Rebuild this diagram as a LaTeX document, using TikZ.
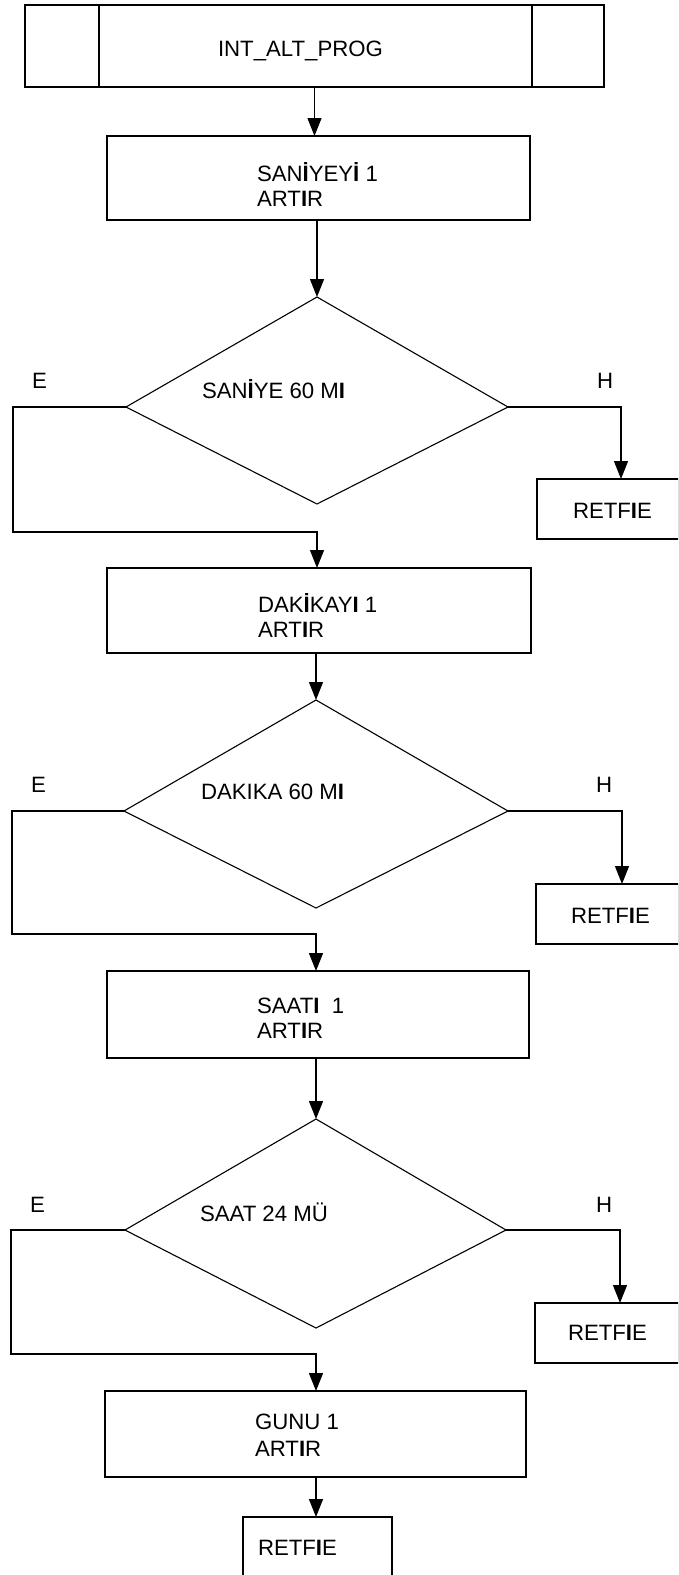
\documentclass[tikz,border=0pt]{standalone}
\usepackage{fontspec}
\setmainfont{Liberation Sans}
\usetikzlibrary{arrows.meta}
% heavier capital I as set in the labels
\newcommand\boldI{\textbf{I}}
\newcommand\boldIdot{\textbf{İ}}

\begin{document}
\begin{tikzpicture}[x=1pt,y=-1pt,
  line width=1.1pt,
  box/.style={draw, rectangle, inner sep=0pt, outer sep=0pt},
  lbl/.style={inner sep=0pt, outer sep=0pt, anchor=base west, font=\fontsize{22.2}{25}\selectfont},
  arr/.style={-{Triangle[length=18pt,width=14pt]}},
  decision/.style={draw, line join=miter},
]
\useasboundingbox (0,0) rectangle (678,1575);
\clip (0,0) rectangle (678,1575);

% ---- subroutine header ----
\node[box, minimum width=579pt, minimum height=82pt] (top) at (314.5,46) {};
\draw ([xshift=74pt]top.north west) -- ([xshift=74pt]top.south west);
\draw ([xshift=-72pt]top.north east) -- ([xshift=-72pt]top.south east);
\node[lbl] (toptxt) at (218,56) {INT\_ALT\_PROG};

% ---- seconds ----
\node[box, minimum width=423pt, minimum height=84pt] (b1) at (318.5,178) {};
\node[lbl] (b1a) at (257,181) {SAN\boldIdot YEY\boldIdot\ 1};
\node[lbl] (b1b) at (257,206) {ART\boldI R};

\coordinate (d1t) at (317,297);
\coordinate (d1l) at (126,407);
\coordinate (d1r) at (508,407);
\coordinate (d1b) at (317,504);
\draw[decision] (d1t) -- (d1r) -- (d1b) -- (d1l) -- cycle;
\node[lbl] (d1txt) at (202,398) {SAN\boldIdot YE 60 M\boldI};
\node[lbl] (e1) at (32,388) {E};
\node[lbl] (h1) at (597,388) {H};

\node[box, minimum width=142pt, minimum height=60pt] (r1) at (608,509) {};
\node[lbl] (r1txt) at (573,518) {RETF\boldI E};

% ---- minutes ----
\node[box, minimum width=424pt, minimum height=85pt] (b2) at (319,610.5) {};
\node[lbl] (b2a) at (258,612) {DAK\boldIdot KAY\boldI\ 1};
\node[lbl] (b2b) at (258,637) {ART\boldI R};

\coordinate (d2t) at (316,700);
\coordinate (d2l) at (124,811);
\coordinate (d2r) at (508,811);
\coordinate (d2b) at (316,908);
\draw[decision] (d2t) -- (d2r) -- (d2b) -- (d2l) -- cycle;
\node[lbl] (d2txt) at (201,799) {DAKIKA 60 M\boldI};
\node[lbl] (e2) at (31,792) {E};
\node[lbl] (h2) at (596,792) {H};

\node[box, minimum width=143pt, minimum height=60pt] (r2) at (607.5,914) {};
\node[lbl] (r2txt) at (571,923) {RETF\boldI E};

% ---- hours ----
\node[box, minimum width=422pt, minimum height=87pt] (b3) at (318,1014.5) {};
\node[lbl] (b3a) at (257,1013) {SAAT\boldI\ \ 1};
\node[lbl] (b3b) at (257,1038) {ART\boldI R};

\coordinate (d3t) at (316,1119);
\coordinate (d3l) at (125,1230);
\coordinate (d3r) at (506,1230);
\coordinate (d3b) at (316,1328);
\draw[decision] (d3t) -- (d3r) -- (d3b) -- (d3l) -- cycle;
\node[lbl] (d3txt) at (200,1221) {SAAT 24 MÜ};
\node[lbl] (e3) at (30,1212) {E};
\node[lbl] (h3) at (596,1212) {H};

\node[box, minimum width=144pt, minimum height=60pt] (r3) at (607,1333) {};
\node[lbl] (r3txt) at (568,1340) {RETF\boldI E};

% ---- days ----
\node[box, minimum width=421pt, minimum height=86pt] (b4) at (315.5,1434) {};
\node[lbl] (b4a) at (255,1429) {GUNU 1};
\node[lbl] (b4b) at (255,1456) {ART\boldI R};

\node[box, minimum width=149pt, minimum height=70pt] (r4) at (317.5,1552) {};
\node[lbl] (r4txt) at (258,1555) {RETF\boldI E};

% ---- connectors ----
\draw[arr] (top.south) -- (top.south |- b1.north);
\draw[arr] (d1t |- b1.south) -- (d1t);

\coordinate (e1a) at (13,407);
\coordinate (e1b) at (13,532);
\draw[arr] (d1l) -- (e1a) -- (e1b) -- (d1b |- e1b) -- (d1b |- b2.north);
\coordinate (h1a) at (621,407);
\draw[arr] (d1r) -- (h1a) -- (h1a |- r1.north);

\draw[arr] (d2t |- b2.south) -- (d2t);
\coordinate (e2a) at (12,811);
\coordinate (e2b) at (12,934);
\draw[arr] (d2l) -- (e2a) -- (e2b) -- (d2b |- e2b) -- (d2b |- b3.north);
\coordinate (h2a) at (622,811);
\draw[arr] (d2r) -- (h2a) -- (h2a |- r2.north);

\draw[arr] (d3t |- b3.south) -- (d3t);
\coordinate (e3a) at (11,1230);
\coordinate (e3b) at (11,1354);
\draw[arr] (d3l) -- (e3a) -- (e3b) -- (d3b |- e3b) -- (d3b |- b4.north);
\coordinate (h3a) at (620,1230);
\draw[arr] (d3r) -- (h3a) -- (h3a |- r3.north);

\draw[arr] (d3b |- b4.south) -- (d3b |- r4.north);
\end{tikzpicture}
\end{document}
